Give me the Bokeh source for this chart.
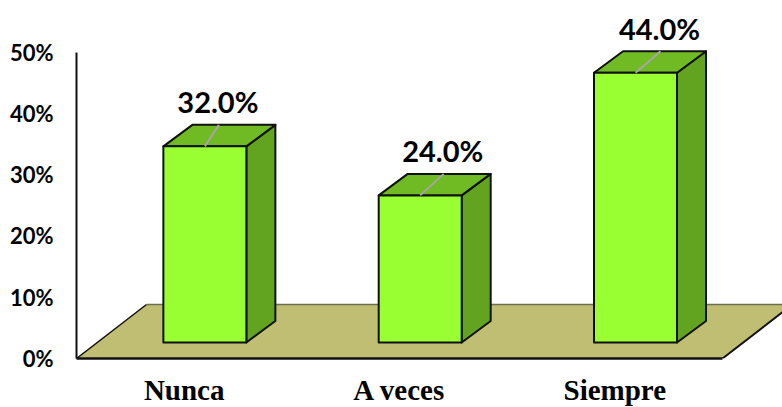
from bokeh.plotting import figure
from bokeh.models import Range1d, FixedTicker, ColumnDataSource
from bokeh.embed import file_html
from bokeh.resources import INLINE
from bokeh.core.properties import value

categories = ["Nunca", "A veces", "Siempre"]
values = [32.0, 24.0, 44.0]
y_ticks = [0, 10, 20, 30, 40, 50]
label_shift_px = [14, 23.5, 25]

W, H = 782, 407
L, B = 76, 49
PX_X = 215.33   # pixels per category
PX_Y = 6.13     # pixels per percent
x_end = (W - L) / PX_X
y_end = (H - B) / PX_Y

FLOOR_DX, FLOOR_DY = 70 / PX_X, 54 / PX_Y
BAR_OX, BAR_OY = 20.7 / PX_X, 16 / PX_Y
BAR_W = 83 / PX_X
BAR_DX, BAR_DY = 29 / PX_X, 21.5 / PX_Y

p = figure(width=W, height=H, output_backend="svg", toolbar_location=None,
           frame_width=W - L, frame_height=H - B,
           x_range=Range1d(0, x_end), y_range=Range1d(0, y_end),
           min_border_left=L, min_border_right=0, min_border_top=0, min_border_bottom=B)
p.outline_line_color = None
p.grid.visible = False
p.background_fill_color = "white"

n = len(categories)
# floor
p.patch([0, n, n + FLOOR_DX, FLOOR_DX], [0, 0, FLOOR_DY, FLOOR_DY],
        fill_color="#C0BE72", line_color=None)
p.line([FLOOR_DX, n + FLOOR_DX], [FLOOR_DY, FLOOR_DY], line_color="#6E6E50", line_width=1.5)
p.line([0, FLOOR_DX], [0, FLOOR_DY], line_color="#111111", line_width=1.5)
p.line([n, n + FLOOR_DX], [0, FLOOR_DY], line_color="#111111", line_width=2)

xl = [i + 0.5 - BAR_W / 2 + BAR_OX for i in range(n)]
xr = [x + BAR_W for x in xl]
base = [BAR_OY] * n
top = [v + BAR_OY for v in values]

front = dict(xs=[[a, b, b, a] for a, b in zip(xl, xr)],
             ys=[[y0, y0, y1, y1] for y0, y1 in zip(base, top)])
side = dict(xs=[[b, b + BAR_DX, b + BAR_DX, b] for b in xr],
            ys=[[y0, y0 + BAR_DY, y1 + BAR_DY, y1] for y0, y1 in zip(base, top)])
roof = dict(xs=[[a, b, b + BAR_DX, a + BAR_DX] for a, b in zip(xl, xr)],
            ys=[[y1, y1, y1 + BAR_DY, y1 + BAR_DY] for y1 in top])

p.patches("xs", "ys", source=ColumnDataSource(side), fill_color="#62A320",
          line_color="#111111", line_width=2, line_join="round")
p.patches("xs", "ys", source=ColumnDataSource(roof), fill_color="#70BA24",
          line_color="#111111", line_width=2, line_join="round")
p.patches("xs", "ys", source=ColumnDataSource(front), fill_color="#99FF33",
          line_color="#111111", line_width=2, line_join="round")

# leaders
cx = [(a + b) / 2 for a, b in zip(xl, xr)]
p.segment(cx, top, [c + s / PX_X for c, s in zip(cx, label_shift_px)],
          [t + BAR_DY for t in top], line_color="#A6A6A6", line_width=2)

# data labels
p.text([c + s / PX_X - 1 / PX_X for c, s in zip(cx, label_shift_px)], [t + BAR_DY for t in top],
       text=[f"{v:.1f}%" for v in values], text_font=value("Lato"), text_font_style="bold",
       text_font_size="29px", text_color="#000000", text_align="center",
       text_baseline="middle", y_offset=-23)

# axes
ya = p.yaxis[0]
ya.ticker = FixedTicker(ticks=y_ticks)
ya.major_label_overrides = {t: f"{t}%" for t in y_ticks}
ya.bounds = (0, 50)
ya.axis_line_color = "#111111"
ya.axis_line_width = 2
ya.major_tick_line_color = None
ya.minor_tick_line_color = None
ya.major_tick_in = 0
ya.major_tick_out = 0
ya.minor_tick_in = 0
ya.minor_tick_out = 0
ya.major_label_standoff = 23
ya.major_label_text_font = "Lato"
ya.major_label_text_font_style = "bold"
ya.major_label_text_font_size = "22px"
ya.major_label_text_color = "#000000"

xa = p.xaxis[0]
x_ticks = [i + 0.5 for i in range(n)]
xa.ticker = FixedTicker(ticks=x_ticks)
xa.major_label_overrides = dict(zip(x_ticks, categories))
xa.bounds = (0, n)
xa.axis_line_color = "#111111"
xa.axis_line_width = 2.5
xa.major_tick_line_color = None
xa.minor_tick_line_color = None
xa.major_tick_in = 0
xa.major_tick_out = 0
xa.minor_tick_in = 0
xa.minor_tick_out = 0
xa.major_label_standoff = 15
xa.major_label_text_font = "Liberation Serif"
xa.major_label_text_font_style = "bold"
xa.major_label_text_font_size = "29px"
xa.major_label_text_color = "#000000"

open("out.html", "w").write(file_html(p, INLINE))
